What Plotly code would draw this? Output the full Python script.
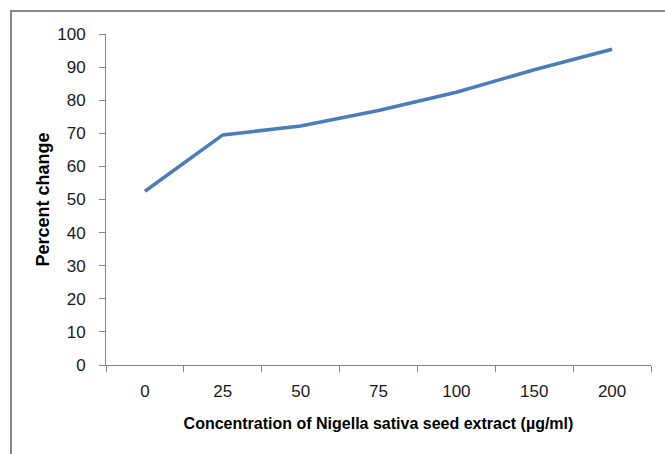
import plotly.graph_objects as go

categories = ["0", "25", "50", "75", "100", "150", "200"]
percent_change = [52.5, 69.5, 72.2, 76.9, 82.4, 89.2, 95.4]
y_ticks = [0, 10, 20, 30, 40, 50, 60, 70, 80, 90, 100]

W, H = 665, 454
L, R, T, B = 106, 14, 34, 89
pw, ph = W - L - R, H - T - B

fig = go.Figure()
fig.add_trace(go.Scatter(
    x=categories, y=percent_change, mode="lines",
    line=dict(color="#4A7EBB", width=3.5),
    showlegend=False, hoverinfo="x+y",
))

axis_color = "#868686"
tick_font = dict(family="Liberation Sans, Arial, sans-serif", size=17, color="#1a1a1a")

fig.update_layout(
    width=W, height=H,
    margin=dict(l=L, r=R, t=T, b=B, pad=0),
    paper_bgcolor="white", plot_bgcolor="white",
    xaxis=dict(
        type="category", range=[-0.5, len(categories) - 0.5],
        showgrid=False, zeroline=False,
        showline=True, linecolor=axis_color, linewidth=1,
        ticks="outside", tickson="boundaries", ticklen=6, tickcolor=axis_color, tickwidth=1,
        tickfont=tick_font, ticklabelstandoff=11,
        title=dict(text="<b>Concentration of Nigella sativa seed extract (µg/ml)</b>",
                   font=dict(family="Liberation Sans, Arial, sans-serif", size=16, color="#000"),
                   standoff=17),
    ),
    yaxis=dict(
        range=[0, 100], tickvals=y_ticks,
        showgrid=False, zeroline=False,
        showline=True, linecolor=axis_color, linewidth=1,
        ticks="outside", ticklen=6, tickcolor=axis_color, tickwidth=1,
        tickfont=tick_font, ticklabelstandoff=10,
        title=dict(text="<b>Percent change</b>",
                   font=dict(family="Liberation Sans, Arial, sans-serif", size=18, color="#000"),
                   standoff=2),
    ),
)

# outer chart frame (gray border, extends beyond right/bottom of the crop)
fig.add_shape(
    type="rect", xref="paper", yref="paper",
    x0=(11 - L) / pw, x1=(W + 5 - L) / pw,
    y0=-(H + 5 - T - ph) / ph, y1=1 + (T - 11) / ph,
    line=dict(color="#878787", width=2), fillcolor="rgba(0,0,0,0)", layer="below",
)

fig.write_html("out.html")
